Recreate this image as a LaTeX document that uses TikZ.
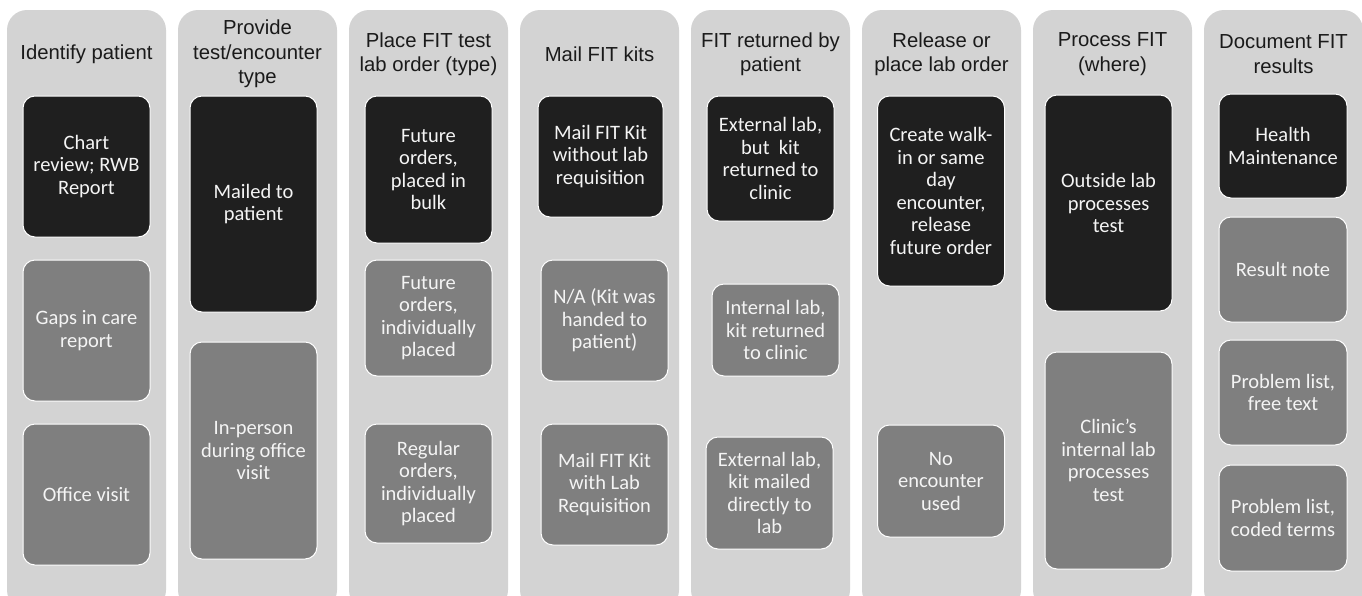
\documentclass[tikz,border=0pt]{standalone}
\usepackage{fontspec}
\setmainfont{Liberation Sans}
\newfontfamily\calfont{Carlito}
\usepackage{xcolor}
\definecolor{fitLane}{HTML}{D3D3D3}
\definecolor{fitDark}{HTML}{1F1F1F}
\definecolor{fitMid}{HTML}{7F7F7F}
\definecolor{fitInk}{HTML}{1A1A1A}
\definecolor{fitPaper}{HTML}{F4F4F4}

\tikzset{
  lanehead/.style={align=center, inner sep=0, text=fitInk,
    font=\fontsize{20.3}{24.5}\selectfont},
  optbox/.style={draw=white, line width=1pt, rounded corners=12pt,
    align=center, inner sep=0, text=fitPaper,
    font=\calfont\fontsize{20.5}{22.5}\selectfont},
  darkopt/.style={optbox, fill=fitDark},
  midopt/.style={optbox, fill=fitMid}
}

\begin{document}
\begin{tikzpicture}[x=1pt, y=-1pt]

% dimensions
\def\lanew{159}   % lane width
\def\pitch{171}   % lane pitch
\def\headY{54}    % header centre

\useasboundingbox (0,0) rectangle (1362,595);
\clip (0,0) rectangle (1362,595);

% --- lanes ---
\foreach \i in {0,...,7} {
  \fill[fitLane, rounded corners=20pt]
    ({7+\pitch*\i}, 10) rectangle ({7+\lanew+\pitch*\i}, 610);
}

% --- headers ---
\node[lanehead] (hId)   at (86.5, \headY) {Identify patient};
\node[lanehead] (hType) at ({86.5+\pitch}, \headY) {Provide\\test/encounter\\type};
\node[lanehead] (hOrd)  at ({86.5+2*\pitch}, \headY) {Place FIT test\\lab order (type)};
\node[lanehead] (hMail) at ({86.5+3*\pitch}, \headY) {Mail FIT kits};
\node[lanehead] (hRet)  at ({86.5+4*\pitch}, \headY) {FIT returned by\\patient};
\node[lanehead] (hRel)  at ({86.5+5*\pitch}, \headY) {Release or\\place lab order};
\node[lanehead] (hProc) at ({86.5+6*\pitch}, \headY) {Process FIT\\(where)};
\node[lanehead] (hDoc)  at ({86.5+7*\pitch}, \headY) {Document FIT\\results};

% --- lane 1: identify patient ---
\node[darkopt, minimum width=127pt, minimum height=141pt] (idA) at (86.5,166.5)
  {Chart\\review; RWB\\Report};
\node[midopt, minimum width=127pt, minimum height=141pt] (idB) at (86.5,330.5)
  {Gaps in care\\report};
\node[midopt, minimum width=127pt, minimum height=141pt] (idC) at (86.5,494.5)
  {Office visit};

% --- lane 2: test/encounter type ---
\node[darkopt, minimum width=127pt, minimum height=216pt] (typA) at (253.5,204)
  {Mailed to\\patient};
\node[midopt, minimum width=127pt, minimum height=217pt] (typB) at (253.5,450.5)
  {In-person\\during office\\visit};

% --- lane 3: lab order type ---
\node[darkopt, minimum width=127pt, minimum height=147pt] (ordA) at (428.5,169.5)
  {Future\\orders,\\placed in\\bulk};
\node[midopt, minimum width=127pt, minimum height=116pt] (ordB) at (428.5,318)
  {Future\\orders,\\individually\\placed};
\node[midopt, minimum width=127pt, minimum height=119pt] (ordC) at (428.5,483.5)
  {Regular\\orders,\\individually\\placed};

% --- lane 4: mail kits ---
\node[darkopt, minimum width=125pt, minimum height=121pt] (mailA) at (600.5,156.5)
  {Mail FIT Kit\\without lab\\requisition};
\node[midopt, minimum width=127pt, minimum height=121pt] (mailB) at (604.5,320.5)
  {N/A (Kit was\\handed to\\patient)};
\node[midopt, minimum width=127pt, minimum height=121pt] (mailC) at (604.5,484.5)
  {Mail FIT Kit\\with Lab\\Requisition};

% --- lane 5: returned by patient ---
\node[darkopt, minimum width=127pt, minimum height=125pt] (retA) at (770.5,158.5)
  {External lab,\\but~ kit\\returned to\\clinic};
\node[midopt, minimum width=127pt, minimum height=92pt] (retB) at (775.5,330)
  {Internal lab,\\kit returned\\to clinic};
\node[midopt, minimum width=127pt, minimum height=112pt] (retC) at (769.5,493)
  {External lab,\\kit mailed\\directly to\\lab};

% --- lane 6: release or place ---
\node[darkopt, minimum width=127pt, minimum height=190pt] (relA) at (941,191)
  {Create walk-\\in or same\\day\\encounter,\\release\\future order};
\node[midopt, minimum width=127pt, minimum height=112pt] (relB) at (941,481)
  {No\\encounter\\used};

% --- lane 7: process ---
\node[darkopt, minimum width=127pt, minimum height=216pt] (procA) at (1108.5,203)
  {Outside lab\\processes\\test};
\node[midopt, minimum width=127pt, minimum height=217pt] (procB) at (1108.5,460.5)
  {Clinic’s\\internal lab\\processes\\test};

% --- lane 8: document results ---
\node[darkopt, minimum width=128pt, minimum height=104pt] (docA) at (1283,146)
  {Health\\Maintenance};
\node[midopt, minimum width=128pt, minimum height=105pt] (docB) at (1283,269.5)
  {Result note};
\node[midopt, minimum width=128pt, minimum height=105pt] (docC) at (1283,392.5)
  {Problem list,\\free text};
\node[midopt, minimum width=128pt, minimum height=106pt] (docD) at (1283,518)
  {Problem list,\\coded terms};

\end{tikzpicture}
\end{document}
